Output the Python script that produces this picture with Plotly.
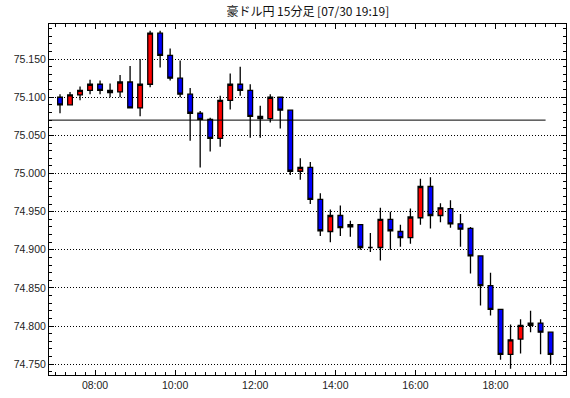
import plotly.graph_objects as go

# 15-minute candles, 2020-07-30, AUD/JPY
date = "2020-07-30"
times = ["07:00", "07:15", "07:30", "07:45", "08:00", "08:15", "08:30", "08:45",
         "09:00", "09:15", "09:30", "09:45", "10:00", "10:15", "10:30", "10:45",
         "11:00", "11:15", "11:30", "11:45", "12:00", "12:15", "12:30", "12:45",
         "13:00", "13:15", "13:30", "13:45", "14:00", "14:15", "14:30", "14:45",
         "15:00", "15:15", "15:30", "15:45", "16:00", "16:15", "16:30", "16:45",
         "17:00", "17:15", "17:30", "17:45", "18:00", "18:15", "18:30", "18:45",
         "19:00", "19:15"]
opens = [75.100, 75.090, 75.103, 75.109, 75.117, 75.109, 75.107, 75.120, 75.086, 75.117,
         75.184, 75.155, 75.125, 75.104, 75.079, 75.071, 75.046, 75.096, 75.117, 75.109,
         75.075, 75.072, 75.100, 75.083, 75.003, 75.008, 74.966, 74.924, 74.945, 74.930,
         74.933, 74.903, 74.903, 74.940, 74.924, 74.916, 74.942, 74.983, 74.945, 74.954,
         74.934, 74.928, 74.892, 74.853, 74.822, 74.763, 74.783, 74.801, 74.804, 74.792]
highs = [75.104, 75.107, 75.114, 75.123, 75.122, 75.118, 75.129, 75.141, 75.150, 75.187,
         75.187, 75.164, 75.148, 75.112, 75.082, 75.073, 75.102, 75.131, 75.140, 75.117,
         75.089, 75.104, 75.100, 75.083, 75.020, 75.015, 74.974, 74.953, 74.958, 74.938,
         74.933, 74.922, 74.955, 74.950, 74.933, 74.954, 74.993, 74.995, 74.961, 74.965,
         74.947, 74.930, 74.893, 74.870, 74.822, 74.802, 74.809, 74.820, 74.809, 74.792]
lows = [75.079, 75.090, 75.096, 75.104, 75.104, 75.100, 75.100, 75.086, 75.075, 75.113,
        75.139, 75.122, 75.100, 75.043, 75.008, 75.029, 75.035, 75.084, 75.102, 75.047,
        75.047, 75.067, 75.059, 74.998, 74.992, 74.960, 74.918, 74.910, 74.918, 74.917,
        74.900, 74.897, 74.886, 74.900, 74.904, 74.908, 74.933, 74.928, 74.936, 74.929,
        74.904, 74.869, 74.827, 74.814, 74.756, 74.744, 74.764, 74.792, 74.763, 74.750]
closes = [75.090, 75.103, 75.109, 75.117, 75.109, 75.106, 75.120, 75.086, 75.117, 75.184,
          75.155, 75.125, 75.104, 75.079, 75.071, 75.046, 75.096, 75.117, 75.109, 75.075,
          75.072, 75.100, 75.083, 75.003, 75.008, 74.966, 74.925, 74.945, 74.929, 74.933,
          74.903, 74.903, 74.940, 74.925, 74.916, 74.943, 74.983, 74.945, 74.955, 74.934,
          74.927, 74.892, 74.853, 74.822, 74.763, 74.782, 74.801, 74.804, 74.792, 74.763]
prev_close = 75.070
prev_close_end = "19:15"
title_text = "豪ドル円 15分足 [07/30 19:19]"

x = [f"{date} {t}" for t in times]

fig = go.Figure()
fig.add_trace(go.Candlestick(
    x=x, open=opens, high=highs, low=lows, close=closes,
    xperiod=15 * 60 * 1000, xperiodalignment="middle",
    increasing=dict(fillcolor="#ff0000", line=dict(color="black", width=1.3)),
    decreasing=dict(fillcolor="#0000ff", line=dict(color="black", width=1.3)),
    whiskerwidth=0, showlegend=False, hoverinfo="skip",
))

fig.add_shape(type="line", xref="x", yref="y",
              x0=f"{date} 06:51", x1=f"{date} {prev_close_end}",
              y0=prev_close, y1=prev_close,
              line=dict(color="black", width=1))

tickfont = dict(family="Liberation Sans, Arial, sans-serif", size=10.5, color="#222")

fig.update_layout(
    width=570, height=398,
    margin=dict(l=49, r=4, t=24, b=23),
    paper_bgcolor="white", plot_bgcolor="white",
    boxgap=0.33,
    title=dict(text=title_text, x=0.54, xanchor="center", y=0.97, yanchor="middle",
               font=dict(family="Noto Sans CJK JP, sans-serif", size=12, color="#111")),
    xaxis=dict(
        type="date",
        range=[f"{date} 06:51:00", f"{date} 19:45:36"],
        rangeslider=dict(visible=False),
        tick0=f"{date} 00:00", dtick=2 * 3600 * 1000, tickformat="%H:%M",
        ticks="inside", ticklen=5, tickcolor="black", tickwidth=1,
        minor=dict(dtick=15 * 60 * 1000, tick0=f"{date} 00:00", ticks="inside",
                   ticklen=3, tickcolor="black", tickwidth=1, showgrid=False),
        showgrid=False, zeroline=False,
        showline=True, linecolor="black", linewidth=1, mirror="allticks",
        tickfont=tickfont,
    ),
    yaxis=dict(
        range=[74.7359, 75.196],
        tick0=74.75, dtick=0.05, tickformat=".3f",
        ticks="inside", ticklen=5, tickcolor="black", tickwidth=1,
        minor=dict(dtick=0.01, tick0=74.75, ticks="inside", ticklen=3,
                   tickcolor="black", tickwidth=1, showgrid=False),
        showgrid=True, gridcolor="black", gridwidth=1, griddash="1px,2px",
        zeroline=False,
        showline=True, linecolor="black", linewidth=1, mirror="allticks",
        tickfont=tickfont,
    ),
)

fig.write_html("out.html")
